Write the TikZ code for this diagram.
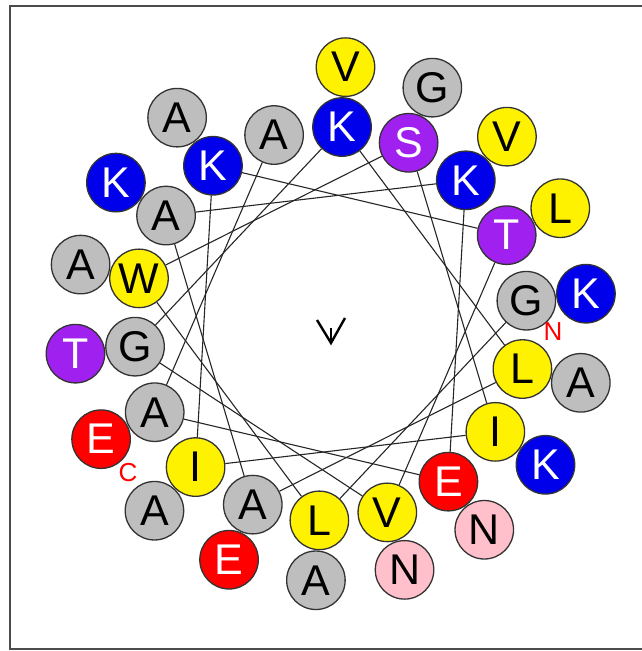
\documentclass[tikz,border=0pt]{standalone}
\usepackage{fontspec}
\setmainfont{Liberation Sans}
\definecolor{rgrey}{RGB}{190,190,190}
\definecolor{rblue}{RGB}{0,0,235}
\definecolor{rpurple}{RGB}{160,32,240}
\definecolor{rpink}{RGB}{255,192,203}
\tikzset{
  res/.style={circle,draw=black!80,line width=1.3pt,minimum size=58.5pt,inner sep=0pt,
    font=\fontsize{43}{43}\selectfont},
  neutral/.style={res,fill=rgrey,text=black},
  hphob/.style={res,fill=yellow,text=black},
  basic/.style={res,fill=rblue,text=white},
  acidic/.style={res,fill=red,text=white},
  polar/.style={res,fill=rpurple,text=white},
  amide/.style={res,fill=rpink,text=black},
  link/.style={black!85,line width=1.1pt},
  term/.style={red,font=\fontsize{26}{26}\selectfont}
}
\begin{document}
\begin{tikzpicture}[x=1pt,y=1pt]
   \useasboundingbox (-330.7,-327.3) rectangle (311.3,323.7);
   \draw[black!70,line width=2pt] (311.3,317.7) -- (-320.7,317.7) -- (-320.7,-325.3) -- (311.3,-325.3);
        % inner turn
        \node[neutral] (r1) at (6.7:197) {G};
        \node[hphob] (r2) at (-93.3:197) {L};
        \node[hphob] (r3) at (166.7:197) {W};
        \node[polar] (r4) at (66.7:197) {S};
        \node[hphob] (r5) at (-33.3:197) {I};
        \node[hphob] (r6) at (-133.3:197) {I};
        \node[basic] (r7) at (126.7:197) {K};
        \node[polar] (r8) at (26.7:197) {T};
        \node[hphob] (r9) at (-73.3:197) {V};
        \node[neutral] (r10) at (-173.3:197) {G};
        \node[basic] (r11) at (86.7:197) {K};
        \node[hphob] (r12) at (-13.3:197) {L};
        \node[neutral] (r13) at (-113.3:197) {A};
        \node[neutral] (r14) at (146.7:197) {A};
        \node[basic] (r15) at (46.7:197) {K};
        \node[acidic] (r16) at (-53.3:197) {E};
        \node[neutral] (r17) at (-153.3:197) {A};
        \node[neutral] (r18) at (106.7:197) {A};
        % outer turn
        \node[basic] (r19) at (6.7:257) {K};
        \node[neutral] (r20) at (-93.3:257) {A};
        \node[neutral] (r21) at (166.7:257) {A};
        \node[neutral] (r22) at (66.7:257) {G};
        \node[basic] (r23) at (-33.3:257) {K};
        \node[neutral] (r24) at (-133.3:257) {A};
        \node[neutral] (r25) at (126.7:257) {A};
        \node[hphob] (r26) at (26.7:257) {L};
        \node[amide] (r27) at (-73.3:257) {N};
        \node[polar] (r28) at (-173.3:257) {T};
        \node[hphob] (r29) at (86.7:257) {V};
        \node[neutral] (r30) at (-13.3:257) {A};
        \node[acidic] (r31) at (-113.3:257) {E};
        \node[basic] (r32) at (146.7:257) {K};
        \node[hphob] (r33) at (46.7:257) {V};
        \node[amide] (r34) at (-53.3:257) {N};
        \node[acidic] (r35) at (-153.3:257) {E};
        % backbone
        \draw[link] (r1) -- (r2);
        \draw[link] (r2) -- (r3);
        \draw[link] (r3) -- (r4);
        \draw[link] (r4) -- (r5);
        \draw[link] (r5) -- (r6);
        \draw[link] (r6) -- (r7);
        \draw[link] (r7) -- (r8);
        \draw[link] (r8) -- (r9);
        \draw[link] (r9) -- (r10);
        \draw[link] (r10) -- (r11);
        \draw[link] (r11) -- (r12);
        \draw[link] (r12) -- (r13);
        \draw[link] (r13) -- (r14);
        \draw[link] (r14) -- (r15);
        \draw[link] (r15) -- (r16);
        \draw[link] (r16) -- (r17);
        \draw[link] (r17) -- (r18);
        % termini
        \node[term] (nterm) at (222.3,-8.3) {N};
        \node[term] (cterm) at (-202.7,-149.3) {C};
        % hydrophobic moment
        \draw[line width=2.4pt] (-13.7,3.7) -- (0.3,-19.3) -- (14.3,5.7);
        \draw[line width=2.4pt] (0.3,-4.3) -- (0.3,-19.3);
\end{tikzpicture}
\end{document}
